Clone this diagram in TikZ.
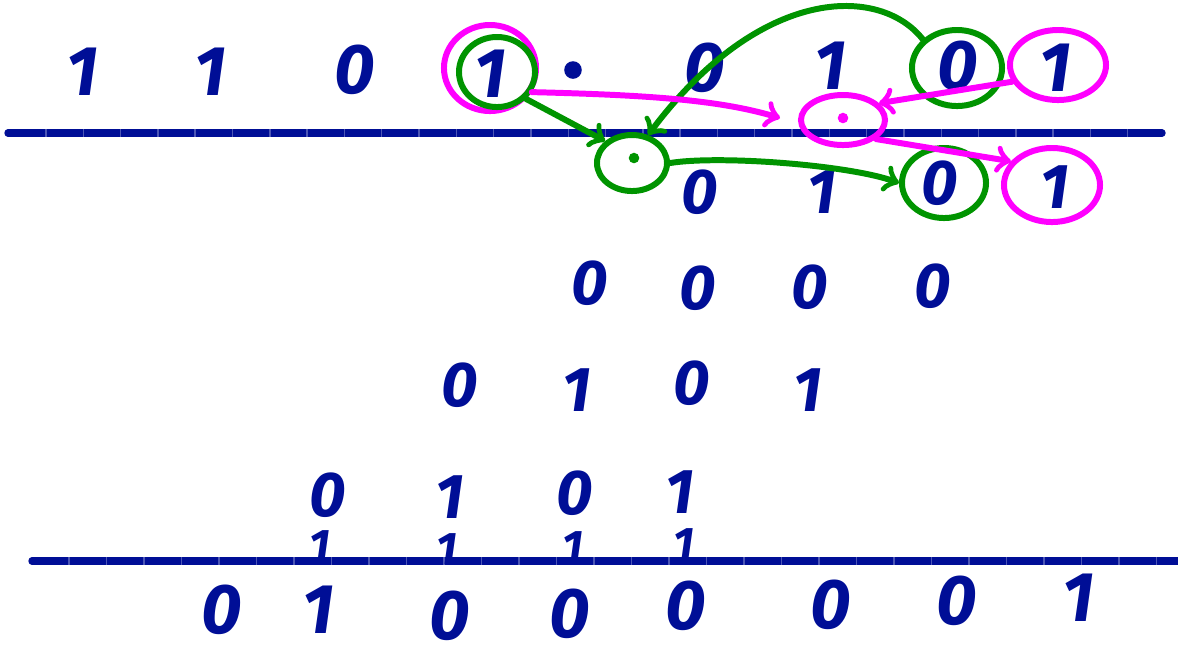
\documentclass[tikz,border=0pt]{standalone}
\usepackage{fontspec}
\setsansfont{Fira Sans}
\usetikzlibrary{shapes.geometric}
\definecolor{ink}{RGB}{0,14,150}
\definecolor{penGreen}{RGB}{0,148,0}
\definecolor{penPink}{RGB}{255,0,255}
\begin{document}
\begin{tikzpicture}[x = 0.01cm, y = -0.01cm,
    digit/.style = {text=ink, inner sep=0pt, font=\sffamily\bfseries\itshape\fontsize{#1}{#1}\selectfont},
    dot/.style = {circle, fill, minimum size=#1, inner sep=0pt, outer sep=0pt},
    ring/.style = {ellipse, draw, line width=1.7pt, inner sep=0pt},
    pen/.style = {line width=1.7pt, line cap=round, ->}]
    \useasboundingbox (0,0) rectangle (1178,653);
    \draw[ink, line width=2.1pt, line cap=round] (8,133) -- (1162,133);
    \draw[ink, line width=2.1pt, line cap=round] (32,561) -- (1178,561);
    \foreach \x in {46,83.3,...,1160} \draw[ink!70, line width=0.4pt] (\x,129) -- (\x,137);
    \foreach \x in {69,106.5,...,1178} \draw[ink!70, line width=0.4pt] (\x,557) -- (\x,565);
    \node (a1) at (82,72) [digit=20]{1};
    \node (a2) at (210,72) [digit=20]{1};
    \node (a3) at (355,70) [digit=20]{0};
    \node (a4) at (490,74) [digit=20]{1};
    \node (pt) at (573,70) [dot=5pt, ink]{};
    \node (a5) at (705,68) [digit=20]{0};
    \node (a6) at (830,66) [digit=20]{1};
    \node (a7) at (958,66) [digit=20]{0};
    \node (a8) at (1055,68) [digit=20]{1};
    \node (b1) at (700,192) [digit=18]{0};
    \node (b2) at (822,192) [digit=18]{1};
    \node (b3) at (940,183) [digit=18]{0};
    \node (b4) at (1055,187) [digit=18]{1};
    \node (c1) at (590,283) [digit=18]{0};
    \node (c2) at (698,288) [digit=18]{0};
    \node (c3) at (810,287) [digit=18]{0};
    \node (c4) at (933,286) [digit=18]{0};
    \node (d1) at (460,385) [digit=18]{0};
    \node (d2) at (577,390) [digit=18]{1};
    \node (d3) at (692,383) [digit=18]{0};
    \node (d4) at (808,390) [digit=18]{1};
    \node (e1) at (328,495) [digit=18]{0};
    \node (e2) at (450,497) [digit=18]{1};
    \node (e3) at (575,493) [digit=18]{0};
    \node (e4) at (680,492) [digit=18]{1};
    \node (k1) at (320,546) [digit=13]{1};
    \node (k2) at (447,549) [digit=13]{1};
    \node (k3) at (573,547) [digit=13]{1};
    \node (k4) at (684,544) [digit=13]{1};
    \node (s1) at (222,610) [digit=20]{0};
    \node (s2) at (318,610) [digit=20]{1};
    \node (s3) at (450,616) [digit=20]{0};
    \node (s4) at (570,614) [digit=20]{0};
    \node (s5) at (686,606) [digit=20]{0};
    \node (s6) at (831,605) [digit=20]{0};
    \node (s7) at (957,601) [digit=20]{0};
    \node (s8) at (1078,598) [digit=20]{1};
    \node (pA) at (490,68) [ring, penPink, minimum width=0.92cm, minimum height=0.86cm]{};
    \node (gA) at (497,72) [ring, penGreen, minimum width=0.76cm, minimum height=0.7cm]{};
    \node (gB) at (957,68) [ring, penGreen, minimum width=0.9cm, minimum height=0.76cm]{};
    \node (pB) at (1058,65) [ring, penPink, minimum width=0.96cm, minimum height=0.7cm]{};
    \node (gDot) at (632,163) [ring, penGreen, minimum width=0.7cm, minimum height=0.56cm]{};
    \node (pDot) at (843,120) [ring, penPink, minimum width=0.84cm, minimum height=0.5cm]{};
    \node (gC) at (944,183) [ring, penGreen, minimum width=0.84cm, minimum height=0.7cm]{};
    \node (pC) at (1052,185) [ring, penPink, minimum width=0.96cm, minimum height=0.74cm]{};
    \node (gPt) at (634,158) [dot=3pt, penGreen]{};
    \node (pPt) at (843,118) [dot=3pt, penPink]{};
    \coordinate (pTip) at (780,118);
    \draw[pen, penGreen] (gA.south east) -- (gDot.north west);
    \draw[pen, penGreen] (gB.140) .. controls (880,-15) and (760,-15) .. (gDot.60);
    \draw[pen, penGreen] (gDot.east) .. controls (720,155) and (850,165) .. (gC.west);
    \draw[pen, penPink] (pA.-30) .. controls (650,95) and (720,100) .. (pTip);
    \draw[pen, penPink] (pB.200) -- (pDot.25);
    \draw[pen, penPink] (pDot.-30) -- (pC.150);
\end{tikzpicture}
\end{document}
